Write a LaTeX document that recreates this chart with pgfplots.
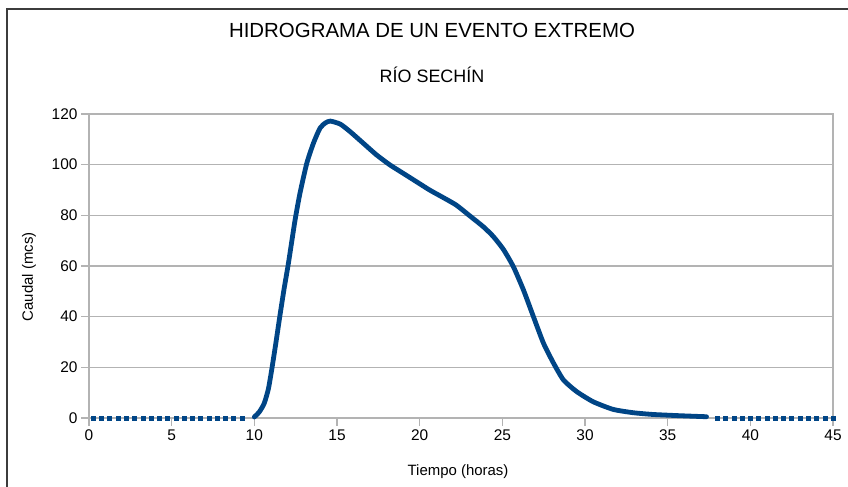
\documentclass[border=0pt]{standalone}
\usepackage{fontspec}
\setmainfont{Liberation Sans}
\usepackage{pgfplots}
\pgfplotsset{compat=1.18}
\definecolor{serie}{HTML}{004586}
\definecolor{rejilla}{HTML}{B3B3B3}
\definecolor{marco}{HTML}{3C3C3C}
\begin{document}
\begin{tikzpicture}
\useasboundingbox (0bp,0bp) rectangle (848bp,487bp);
% outer chart frame
\draw[line width=1.4bp, marco] (7bp,0bp) -- (7bp,478bp) -- (848bp,478bp);
\node[anchor=base, font=\fontsize{20.5}{24}\selectfont] at (432bp,449bp) {HIDROGRAMA DE UN EVENTO EXTREMO};
\node[anchor=base, font=\fontsize{18}{22}\selectfont] at (432bp,404bp) {RÍO SECHÍN};
\begin{axis}[
  at={(89bp,69bp)}, anchor=south west,
  scale only axis, width=744bp, height=304bp,
  xmin=0, xmax=45, ymin=0, ymax=120,
  xtick={0,5,...,45}, ytick={0,20,...,120},
  xtick pos=bottom, ytick pos=left,
  tick align=outside, major tick length=8bp,
  axis line style={rejilla, line width=1.1bp},
  tick style={rejilla, line width=1.1bp},
  ymajorgrids, grid style={rejilla, line width=1.1bp},
  tick label style={font=\fontsize{15.5}{18}\selectfont},
  /pgf/number format/assume math mode=true,
  xlabel={Tiempo (horas)}, ylabel={Caudal (mcs)},
  label style={font=\fontsize{15}{18}\selectfont},
  xlabel style={at={(axis description cs:0.496,-0.178)}, anchor=center},
  ylabel style={at={(axis description cs:-0.0806,0.464)}, anchor=center, rotate=0},
  clip=false,
]
% hydrograph of the flood event
\addplot[serie, line width=4.8bp, smooth, tension=0.35, line cap=round, line join=round] table {
x y
10.0 0.4
10.3 2.4
10.6 5.8
10.85 11.5
11.05 19
11.3 29.5
11.55 40.5
11.8 51
12.06 61
12.46 78
12.76 88.7
13.17 100.5
13.57 108.4
13.97 114.4
14.3 116.5
14.6 117.2
15.2 116
15.8 113
16.6 108.4
17.4 103.8
18.2 99.9
19.0 96.6
19.8 93.3
20.6 90
21.4 87.1
22.2 84.1
23.05 79.7
23.85 75.5
24.46 71.6
25.07 66.5
25.67 59.7
26.28 50.5
26.88 40
27.49 29.5
28.1 21.6
28.7 15
29.5 10.4
30.5 6.4
31.7 3.4
32.9 2.1
34.1 1.4
35.75 0.9
37.35 0.5
};
% base flow before and after the event
\addplot[only marks, mark=square*, mark size=2bp, serie] table {
x y
0.25 0
0.75 0
1.25 0
1.75 0
2.25 0
2.75 0
3.25 0
3.75 0
4.25 0
4.75 0
5.25 0
5.75 0
6.25 0
6.75 0
7.25 0
7.75 0
8.25 0
8.75 0
9.25 0
38.0 0
38.5 0
39.0 0
39.5 0
40.0 0
40.5 0
41.0 0
41.5 0
42.0 0
42.5 0
43.0 0
43.5 0
44.0 0
44.5 0
45.0 0
};
\end{axis}
\end{tikzpicture}
\end{document}
